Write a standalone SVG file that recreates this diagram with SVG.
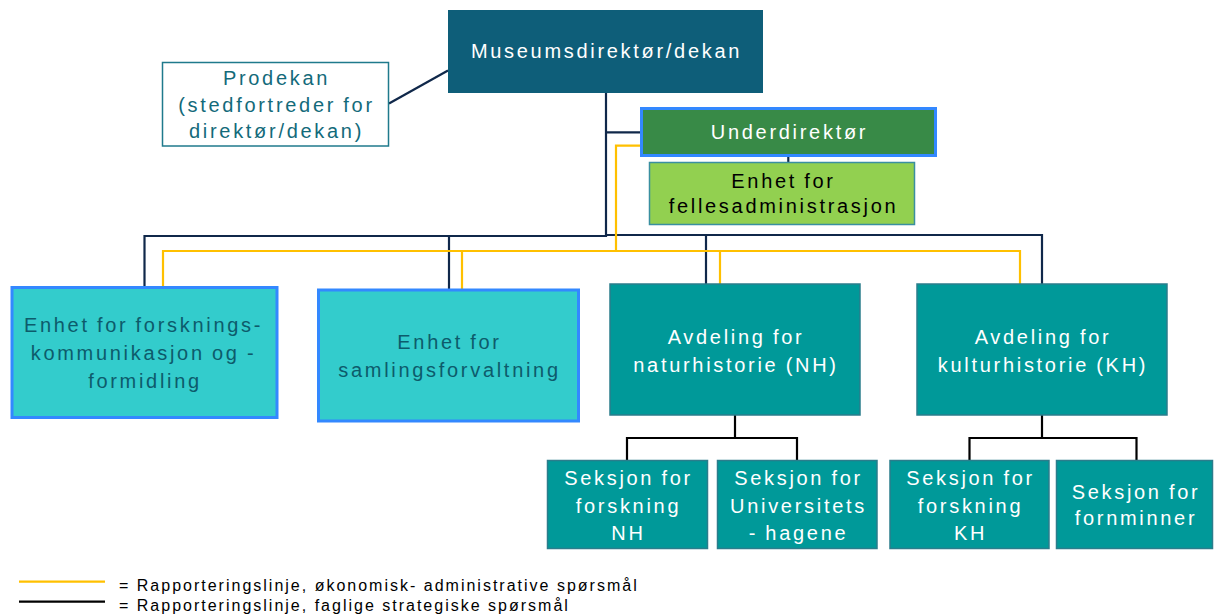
<svg xmlns="http://www.w3.org/2000/svg" width="1214" height="616" viewBox="0 0 1214 616">
<style>
text{font-family:"Liberation Sans",Arial,sans-serif;font-size:20px;letter-spacing:2.7px;word-spacing:-1px;text-anchor:middle}
.w{fill:#ffffff}
.dk{fill:#0d5b6b}
.pt{fill:#136a7a}
.bk{fill:#000000}
.teal{fill:#009999;stroke:#2b7d8c;stroke-width:1.5}
.cyan{fill:#33cccc;stroke:#3388ff;stroke-width:3}
.nav{stroke:#10284a;stroke-width:2.2;fill:none}
.blk{stroke:#000000;stroke-width:2.2;fill:none}
.yel{stroke:#ffc000;stroke-width:2.2;fill:none}
.leg{font-size:16px;letter-spacing:2px;word-spacing:0;text-anchor:start;fill:#000}
</style>
<g id="connectors">
<line class="nav" x1="389" y1="103.5" x2="448" y2="70.5"/>
<polyline class="nav" points="606,93 606,236 144.5,236 144.5,287"/>
<line class="nav" x1="449" y1="236" x2="449" y2="290"/>
<polyline class="nav" points="606,235 1042,235 1042,284"/>
<line class="nav" x1="706" y1="235" x2="706" y2="284"/>
<line class="nav" x1="606" y1="132.3" x2="640" y2="132.3"/>
<line class="nav" x1="788.3" y1="156" x2="788.3" y2="162.5"/>
<polyline class="yel" points="640,145.7 616,145.7 616,251"/>
<polyline class="yel" points="163,287 163,251 1020,251 1020,284"/>
<line class="yel" x1="462" y1="251" x2="462" y2="290"/>
<line class="yel" x1="720" y1="251" x2="720" y2="284"/>
<line class="blk" x1="735" y1="415" x2="735" y2="438"/>
<polyline class="blk" points="627,460 627,438 797,438 797,460"/>
<line class="blk" x1="1042" y1="415" x2="1042" y2="438"/>
<polyline class="blk" points="969.5,460 969.5,438 1136.5,438 1136.5,460"/>
</g>
<g id="museumsdirektor">
<rect x="448" y="10" width="315" height="83" fill="#0e5e79"/>
<text class="w" x="606.5" y="57.5">Museumsdirektør/dekan</text>
</g>
<g id="prodekan">
<rect x="162.5" y="62.5" width="226" height="83.5" fill="#ffffff" stroke="#1f7a8c" stroke-width="1.5"/>
<text class="pt" x="276.5" y="85">Prodekan</text>
<text class="pt" x="276.5" y="111.7">(stedfortreder for</text>
<text class="pt" x="276.5" y="138.3">direktør/dekan)</text>
</g>
<g id="underdirektor">
<rect x="641.5" y="108.5" width="294" height="47" fill="#388a47" stroke="#3388ff" stroke-width="3"/>
<text class="w" x="789.5" y="139.3">Underdirektør</text>
</g>
<g id="fellesadministrasjon">
<rect x="649.5" y="162.5" width="265" height="62" fill="#92d050" stroke="#3a8fa0" stroke-width="1.5"/>
<text class="bk" x="783.5" y="187.7">Enhet for</text>
<text class="bk" x="783.5" y="213.3">fellesadministrasjon</text>
</g>
<g id="forskningskommunikasjon">
<rect class="cyan" x="12" y="287.5" width="265" height="130"/>
<text class="dk" x="143.5" y="332">Enhet for forsknings-</text>
<text class="dk" x="143.5" y="360">kommunikasjon og -</text>
<text class="dk" x="145" y="388">formidling</text>
</g>
<g id="samlingsforvaltning">
<rect class="cyan" x="318.5" y="290" width="260" height="131"/>
<text class="dk" x="449.5" y="349">Enhet for</text>
<text class="dk" x="449.5" y="376.7">samlingsforvaltning</text>
</g>
<g id="naturhistorie">
<rect class="teal" x="610" y="284" width="250" height="131"/>
<text class="w" x="736" y="344">Avdeling for</text>
<text class="w" x="736" y="371.7">naturhistorie (NH)</text>
</g>
<g id="kulturhistorie">
<rect class="teal" x="917" y="284" width="250" height="131"/>
<text class="w" x="1043" y="344">Avdeling for</text>
<text class="w" x="1043" y="371.7">kulturhistorie (KH)</text>
</g>
<g id="forskning-nh">
<rect class="teal" x="547.5" y="460.5" width="160" height="88"/>
<text class="w" x="628.5" y="485">Seksjon for</text>
<text class="w" x="628.5" y="513">forskning</text>
<text class="w" x="628.5" y="540">NH</text>
</g>
<g id="universitetshagene">
<rect class="teal" x="717.5" y="460.5" width="159.5" height="88"/>
<text class="w" x="798.5" y="485">Seksjon for</text>
<text class="w" x="798.5" y="513">Universitets</text>
<text class="w" x="798.5" y="540">- hagene</text>
</g>
<g id="forskning-kh">
<rect class="teal" x="890" y="460.5" width="159" height="88"/>
<text class="w" x="970.5" y="485">Seksjon for</text>
<text class="w" x="970.5" y="513">forskning</text>
<text class="w" x="970.5" y="540">KH</text>
</g>
<g id="fornminner">
<rect class="teal" x="1056.5" y="460.5" width="156" height="88"/>
<text class="w" x="1136" y="499">Seksjon for</text>
<text class="w" x="1136" y="525">fornminner</text>
</g>
<g id="legend">
<line x1="19" y1="581.7" x2="105" y2="581.7" stroke="#ffc000" stroke-width="2.2"/>
<line x1="19" y1="601.7" x2="105" y2="601.7" stroke="#000000" stroke-width="2.2"/>
<text class="leg" x="119" y="591">= Rapporteringslinje, økonomisk- administrative spørsmål</text>
<text class="leg" x="119" y="611">= Rapporteringslinje, faglige strategiske spørsmål</text>
</g>
</svg>
